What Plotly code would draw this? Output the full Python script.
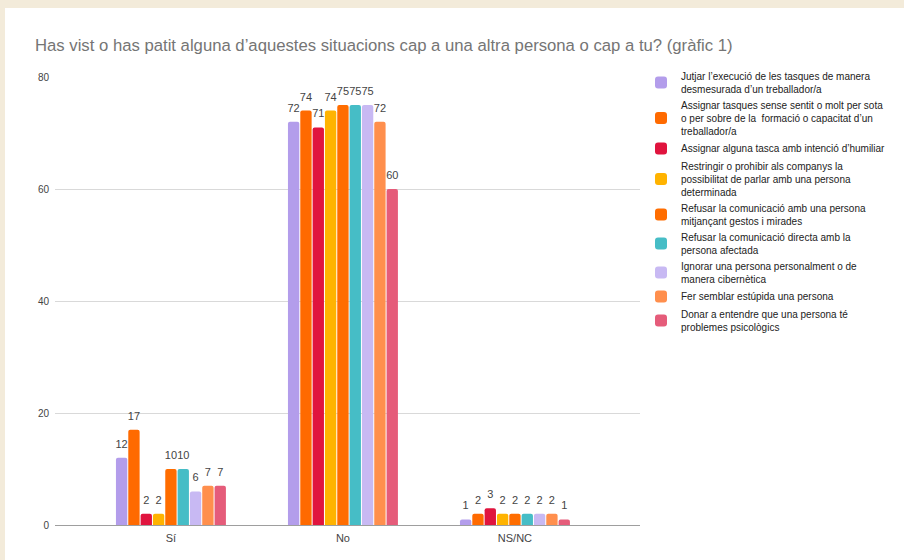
import plotly.graph_objects as go

categories = ["Sí", "No", "NS/NC"]

series_names = [
    "Jutjar l’execució de les tasques de manera<br>desmesurada d’un treballador/a",
    "Assignar tasques sense sentit o molt per sota<br>o per sobre de la  formació o capacitat d’un<br>treballador/a",
    "Assignar alguna tasca amb intenció d’humiliar",
    "Restringir o prohibir als companys la<br>possibilitat de parlar amb una persona<br>determinada",
    "Refusar la comunicació amb una persona<br>mitjançant gestos i mirades",
    "Refusar la comunicació directa amb la<br>persona afectada",
    "Ignorar una persona personalment o de<br>manera cibernètica",
    "Fer semblar estúpida una persona",
    "Donar a entendre que una persona té<br>problemes psicològics",
]

values_si = [12, 17, 2, 2, 10, 10, 6, 7, 7]
values_no = [72, 74, 71, 74, 75, 75, 75, 72, 60]
values_nsnc = [1, 2, 3, 2, 2, 2, 2, 2, 1]

colors = ["#B39DEB", "#FF6A00", "#E0143E", "#FFB300", "#FF6D00",
          "#46BDC6", "#C8B9F3", "#FF8F4D", "#E55C7A"]

y_ticks = [0, 20, 40, 60, 80]

FONT = "Liberation Sans, Arial, sans-serif"
GAP = 0.355

fig = go.Figure()
for i, name in enumerate(series_names):
    vals = [values_si[i], values_no[i], values_nsnc[i]]
    fig.add_trace(go.Bar(
        x=categories, y=vals, name=name,
        marker=dict(color=colors[i], line=dict(width=0)),
        hoverinfo="skip",
    ))
for i, name in enumerate(series_names):
    vals = [values_si[i], values_no[i], values_nsnc[i]]
    fig.add_trace(go.Scatter(
        x=categories, y=vals, mode="markers+text", showlegend=False,
        marker=dict(size=10, color="rgba(0,0,0,0)"),
        text=[str(v) for v in vals], textposition="top center",
        textfont=dict(size=11, color="#444444", family=FONT),
        cliponaxis=False, hoverinfo="skip",
    ))

L, R, T, B = 55, 264, 77, 35
pw = 904 - L - R
ph = 560 - T - B

fig.update_layout(
    width=904, height=560,
    margin=dict(l=L, r=R, t=T, b=B, pad=0, autoexpand=False),
    paper_bgcolor="#F3EBDA",
    plot_bgcolor="rgba(0,0,0,0)",
    barmode="group", bargap=GAP, bargroupgap=0.08,
    scattermode="group", scattergap=GAP,
    barcornerradius=2,
    font=dict(family=FONT, color="#444444"),
    title=dict(
        text="Has vist o has patit alguna d’aquestes situacions cap a una altra persona o cap a tu? (gràfic 1)",
        x=35 / 904, xanchor="left", y=1 - 45 / 560, yanchor="middle",
        font=dict(size=16.7, color="#757575"),
    ),
    xaxis=dict(
        range=[-0.674, 2.727], showgrid=False, showline=False, zeroline=False,
        ticks="", tickfont=dict(size=11, color="#444444"), fixedrange=True,
        ticklabelstandoff=5,
    ),
    yaxis=dict(
        range=[0, 80], tickvals=y_ticks, showgrid=True, gridcolor="#D9D9D9",
        gridwidth=1, zeroline=True, zerolinecolor="#9E9E9E", zerolinewidth=1,
        ticks="", tickfont=dict(size=10, color="#444444"), ticklabelstandoff=5,
        fixedrange=True,
    ),
    legend=dict(
        xref="container", yref="container",
        x=641 / 904, y=1 - 63 / 560, xanchor="left", yanchor="top",
        font=dict(size=10, color="#222222"), itemwidth=30,
        bgcolor="rgba(0,0,0,0)",
    ),
    showlegend=True,
    shapes=[dict(
        type="rect", xref="paper", yref="paper", layer="below",
        x0=(5 - L) / pw, x1=(910 - L) / pw,
        y0=-(566 - 525) / ph, y1=(525 - 8) / ph,
        fillcolor="white", line=dict(width=0),
    )],
)

fig.write_html("out.html", config={"displayModeBar": False},
               post_script="document.body.style.margin='0';")
